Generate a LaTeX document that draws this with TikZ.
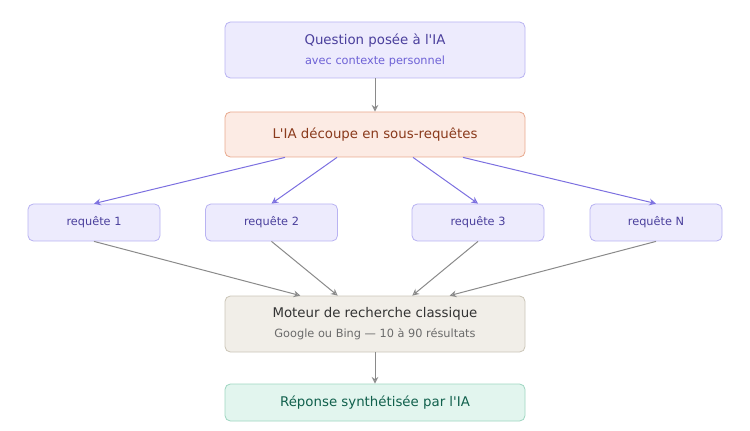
\documentclass[tikz,border=0pt]{standalone}
\usepackage{fontspec}
\setmainfont{DejaVu Sans}
\usetikzlibrary{arrows.meta,positioning}

\definecolor{qfill}{HTML}{EDEBFD}
\definecolor{qdraw}{HTML}{B9B3F2}
\definecolor{qtext}{HTML}{4A3F9C}
\definecolor{qsub}{HTML}{6E62D6}
\definecolor{sfill}{HTML}{FCEBE4}
\definecolor{sdraw}{HTML}{E9A98E}
\definecolor{stext}{HTML}{8A3A1C}
\definecolor{mfill}{HTML}{F1EEE8}
\definecolor{mdraw}{HTML}{CBC5B8}
\definecolor{mtext}{HTML}{333333}
\definecolor{msub}{HTML}{6B6B6B}
\definecolor{rfill}{HTML}{E2F5EE}
\definecolor{rdraw}{HTML}{9ED6C1}
\definecolor{rtext}{HTML}{10604C}
\definecolor{purpleline}{HTML}{7C70E0}
\definecolor{grayline}{HTML}{8A8A8A}

\begin{document}
\begin{tikzpicture}[
  x=0.75pt, y=-0.75pt, >={Stealth[length=5pt,width=5pt,open]},
  font=\fontsize{10}{12}\selectfont,
  box/.style={draw, rounded corners=4pt, align=center, inner sep=3pt, line width=0.6pt},
  wide/.style={box, minimum width=225pt},
  req/.style={box, fill=qfill, draw=qdraw, text=qtext, minimum width=99pt,
    minimum height=27.75pt, font=\fontsize{8.5}{10}\selectfont},
  fan/.style={->, draw=purpleline, line width=0.75pt},
  flow/.style={->, draw=grayline, line width=0.75pt},
]
  \useasboundingbox (0,0) rectangle (750,431);

  \node[wide, fill=qfill, draw=qdraw, text=qtext, minimum height=42pt] (question) at (375,50)
    {Question posée à l\textquotesingle IA\\[3pt]
     {\fontsize{8.5}{10}\selectfont\color{qsub}avec contexte personnel}};

  \node[wide, fill=sfill, draw=sdraw, text=stext, minimum height=33.75pt] (split) at (375,134.5)
    {L\textquotesingle IA découpe en sous-requêtes};

  \node[req] (req1) at (94,222.5)  {requête 1};
  \node[req] (req2) at (271.5,222.5) {requête 2};
  \node[req] (req3) at (478,222.5) {requête 3};
  \node[req] (reqN) at (656,222.5) {requête N};

  \node[wide, fill=mfill, draw=mdraw, text=mtext, minimum height=42pt] (engine) at (375,324)
    {Moteur de recherche classique\\[3pt]
     {\fontsize{8.5}{10}\selectfont\color{msub}Google ou Bing — 10 à 90 résultats}};

  \node[wide, fill=rfill, draw=rdraw, text=rtext, minimum height=27.75pt] (answer) at (375,402.5)
    {Réponse synthétisée par l\textquotesingle IA};

  % question -> split
  \draw[flow] (question) -- (split);

  % fan out
  \draw[fan] ([xshift=-67.5pt]split.south) -- (req1.north);
  \draw[fan] ([xshift=-28.5pt]split.south) -- (req2.north);
  \draw[fan] ([xshift=28.5pt]split.south)  -- (req3.north);
  \draw[fan] ([xshift=66pt]split.south)    -- (reqN.north);

  % fan in
  \draw[flow] (req1.south) -- ([xshift=-56pt]engine.north);
  \draw[flow] (req2.south) -- ([xshift=-28pt]engine.north);
  \draw[flow] (req3.south) -- ([xshift=28pt]engine.north);
  \draw[flow] (reqN.south) -- ([xshift=56pt]engine.north);

  \draw[flow] (engine) -- (answer);
\end{tikzpicture}
\end{document}
